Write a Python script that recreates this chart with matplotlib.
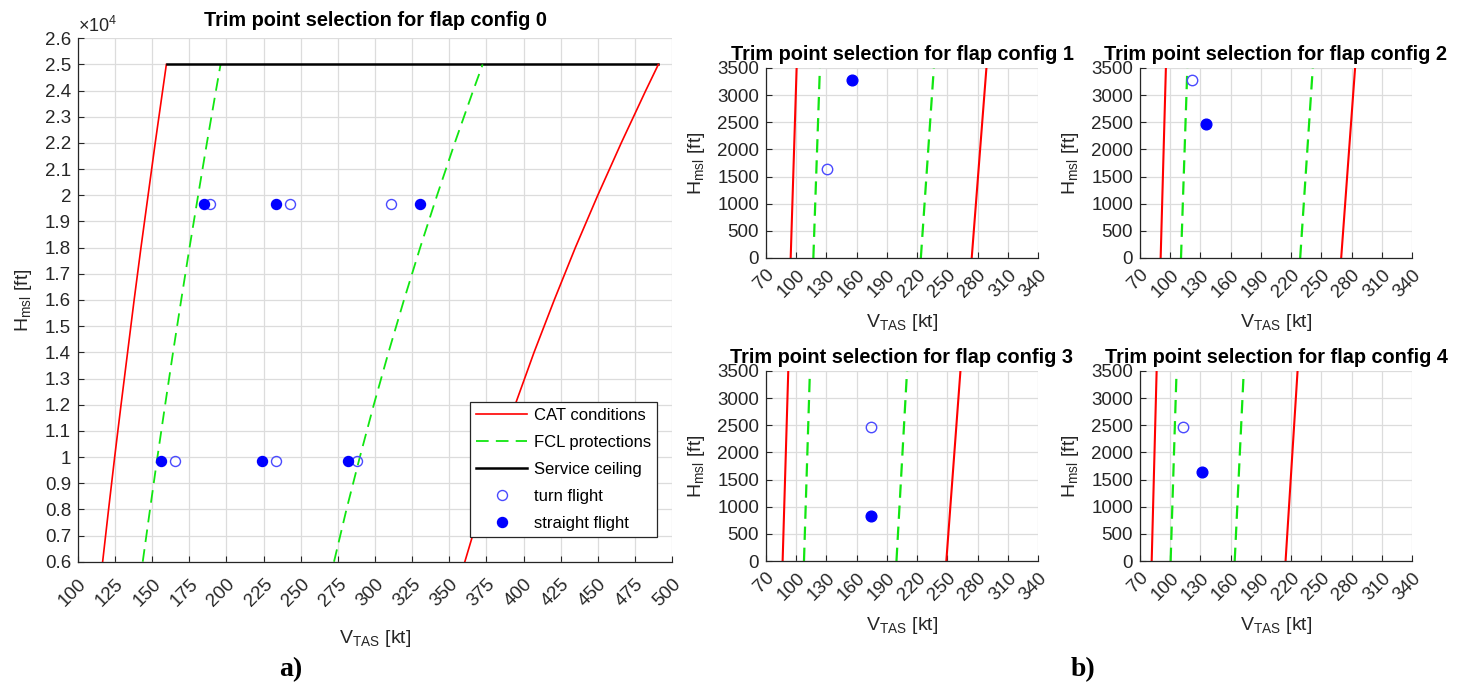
import matplotlib
matplotlib.use("Agg")
import matplotlib.pyplot as plt
import numpy as np

plt.rcParams['font.family'] = ['Liberation Sans', 'DejaVu Sans']
plt.rcParams['mathtext.default'] = 'regular'

# ---- flap config 0 (big plot) ----
h0 = [6000, 8000, 10000, 12000, 14000, 16000, 18000, 20000, 22000, 24000, 25000]
cat_lo0 = [116.6, 120.6, 124.7, 129.0, 133.4, 137.8, 142.4, 147.2, 152.0, 157.0, 159.5]
cat_hi0 = [360.5, 371.0, 382.3, 394.4, 407.1, 420.7, 434.9, 450.0, 465.8, 482.3, 490.8]
fcl_lo0 = [143.6, 148.5, 153.5, 158.7, 164.0, 169.5, 175.1, 180.9, 186.8, 192.9, 196.0]
fcl_hi0 = [272.4, 280.8, 289.8, 299.2, 309.1, 319.5, 330.4, 341.8, 353.7, 366.1, 372.5]
ceiling = 25000
ceil_v = [160.0, 490.8]
turn_v0 = [165.3, 233.3, 288.0, 188.7, 242.9, 310.9]
turn_h0 = [9843, 9843, 9843, 19685, 19685, 19685]
str_v0 = [155.7, 223.6, 282.0, 184.8, 233.3, 330.4]
str_h0 = [9843, 9843, 9843, 19685, 19685, 19685]

# ---- flap configs 1..4 (small plots), lines from 0 ft to 3500 ft ----
h_small = [0, 3500]
cat_lo = [[94.5, 100.4], [90.5, 95.7], [86.5, 92.1], [81.6, 86.5]]
fcl_lo = [[117.0, 123.5], [110.7, 117.0], [107.7, 113.6], [100.4, 106.3]]
fcl_hi = [[223.7, 236.6], [229.0, 241.5], [199.5, 210.0], [164.0, 173.0]]
cat_hi = [[274.2, 288.8], [269.7, 283.5], [249.0, 263.0], [214.5, 226.4]]
turn_pt = [(130.1, 1640), (121.5, 3281), (174.0, 2461), (112.9, 2461)]
str_pt = [(155.0, 3281), (136.0, 2461), (174.7, 820), (132.0, 1640)]

RED = '#ff0000'
GREEN = '#11e611'
BLUE = '#0000ff'
OPEN = '#4a4aff'
DARK = '#262626'
GRID = '#dcdcdc'


def style(ax, fs, xpad):
    ax.grid(True, color=GRID, linewidth=0.9)
    ax.set_axisbelow(True)
    for s in ['top', 'right']:
        ax.spines[s].set_visible(False)
    for s in ['left', 'bottom']:
        ax.spines[s].set_color(DARK)
        ax.spines[s].set_linewidth(0.9)
    ax.tick_params(direction='in', length=4, colors=DARK, labelsize=fs, width=0.8)
    ax.tick_params(axis='x', pad=xpad)
    ax.tick_params(axis='y', pad=5)
    for lab in ax.get_xticklabels():
        lab.set_rotation(45)
        lab.set_ha('right')
        lab.set_rotation_mode('anchor')


fig = plt.figure(figsize=(14.66, 6.86), dpi=100)

# big plot
ax = fig.add_axes([0.0532, 0.1812, 0.4052, 0.763])
ax.plot(cat_lo0, h0, color=RED, lw=1.2, label='CAT conditions')
ax.plot(fcl_lo0, h0, color=GREEN, lw=1.3, dashes=(7, 4), label='FCL protections')
ax.plot(ceil_v, [ceiling, ceiling], color='k', lw=1.8, label='Service ceiling')
ax.plot(cat_hi0, h0, color=RED, lw=1.2)
ax.plot(fcl_hi0, h0, color=GREEN, lw=1.3, dashes=(7, 4))
ax.plot(turn_v0, turn_h0, 'o', ms=7.2, mfc='none', mec=OPEN, mew=1.0, ls='none', label='turn flight')
ax.plot(str_v0, str_h0, 'o', ms=7.2, color=BLUE, ls='none', label='straight flight')
ax.set_xlim(100, 500)
ax.set_ylim(6000, 26000)
xt = np.arange(100, 501, 25)
yt = np.arange(6000, 26001, 1000)
ax.set_xticks(xt)
ax.set_yticks(yt)
ax.set_yticklabels(['%g' % (v / 1e4) for v in yt])
style(ax, 13.5, 10)
ax.text(0.0, 1.004, r'$\times$10$^4$', transform=ax.transAxes, ha='left', va='bottom',
        fontsize=13, color=DARK)
ax.set_title('Trim point selection for flap config 0', fontsize=14.3, fontweight='bold', pad=9)
ax.set_xlabel(r'V$_{TAS}$ [kt]', fontsize=14, color=DARK, labelpad=13)
ax.set_ylabel(r'H$_{msl}$ [ft]', fontsize=14, color=DARK, labelpad=8)
leg = ax.legend(loc='lower right', bbox_to_anchor=(1 - 15 / 594, 25 / 523.4), borderaxespad=0,
                fontsize=12, fancybox=False, framealpha=1, edgecolor=DARK, handlelength=3.1,
                labelspacing=0.72, borderpad=0.35, handletextpad=0.4)
leg.get_frame().set_linewidth(0.9)

fig.text(291 / 1466, 1 - 670 / 686, 'a)', fontsize=20, fontweight='bold',
         family='Liberation Serif', ha='center', va='center')

# small plots
lefts = [766, 1140, 766, 1140]
tops = [68, 68, 371, 371]
for i in range(4):
    l, t = lefts[i], tops[i]
    a = fig.add_axes([l / 1466, 1 - (t + 190) / 686, 272 / 1466, 190 / 686])
    a.plot(cat_lo[i], h_small, color=RED, lw=1.5)
    a.plot(cat_hi[i], h_small, color=RED, lw=1.5)
    a.plot(fcl_lo[i], h_small, color=GREEN, lw=1.6, dashes=(6, 3.5))
    a.plot(fcl_hi[i], h_small, color=GREEN, lw=1.6, dashes=(6, 3.5))
    a.plot([turn_pt[i][0]], [turn_pt[i][1]], 'o', ms=7.5, mfc='none', mec=OPEN, mew=1.0)
    a.plot([str_pt[i][0]], [str_pt[i][1]], 'o', ms=7.7, color=BLUE)
    a.set_xlim(70, 340)
    a.set_ylim(0, 3500)
    a.set_xticks(np.arange(70, 341, 30))
    a.set_yticks(np.arange(0, 3501, 500))
    style(a, 13.5, 6)
    a.set_title('Trim point selection for flap config %d' % (i + 1), fontsize=14.3,
                fontweight='bold', pad=6)
    a.set_xlabel(r'V$_{TAS}$ [kt]', fontsize=14, color=DARK, labelpad=8)
    a.set_ylabel(r'H$_{msl}$ [ft]', fontsize=14, color=DARK, labelpad=7)

fig.text(1083 / 1466, 1 - 670 / 686, 'b)', fontsize=20, fontweight='bold',
         family='Liberation Serif', ha='center', va='center')

fig.savefig('out.png', dpi=100)
